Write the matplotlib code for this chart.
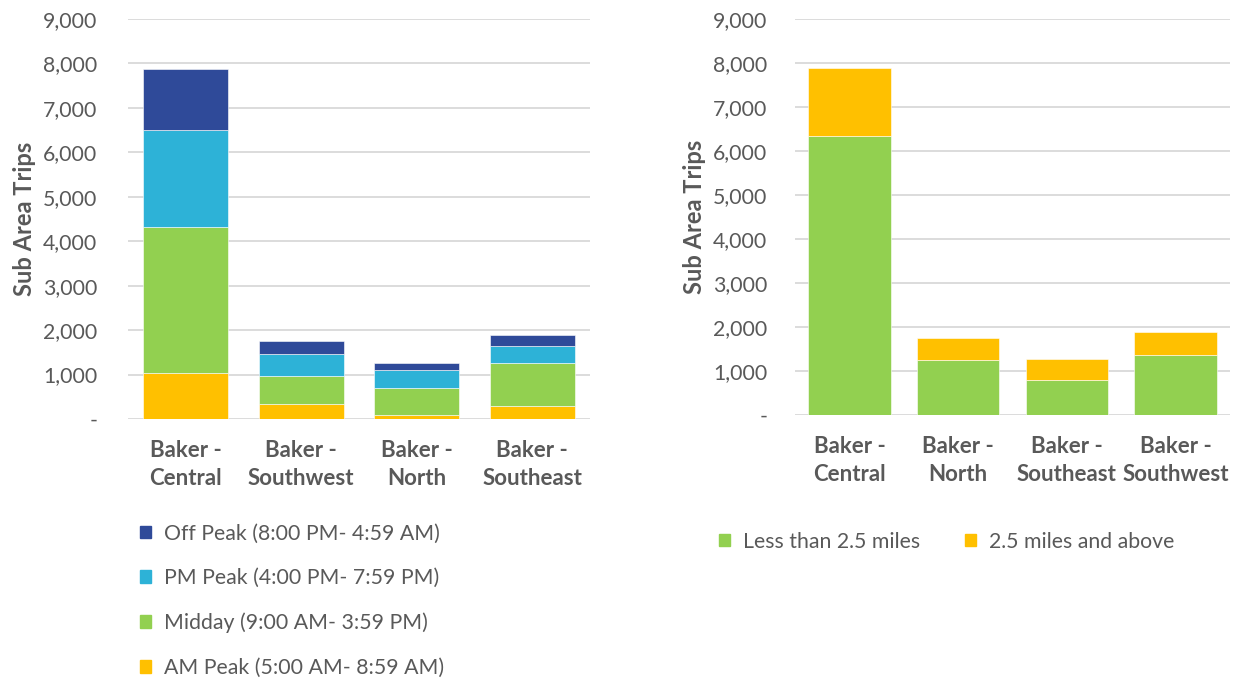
import matplotlib
matplotlib.use("Agg")
import matplotlib.pyplot as plt
from matplotlib.patches import Patch
from matplotlib.ticker import FuncFormatter

plt.rcParams['font.family'] = ['Lato', 'DejaVu Sans']

# Trips by time of day
areas_time = ["Baker -\nCentral", "Baker -\nSouthwest", "Baker -\nNorth", "Baker -\nSoutheast"]
am_peak = [1040, 330, 100, 300]
midday = [3290, 645, 605, 960]
pm_peak = [2170, 480, 390, 375]
off_peak = [1380, 295, 165, 255]
time_labels = ["AM Peak (5:00 AM- 8:59 AM)", "Midday (9:00 AM- 3:59 PM)",
               "PM Peak (4:00 PM- 7:59 PM)", "Off Peak (8:00 PM- 4:59 AM)"]

# Trips by distance
areas_dist = ["Baker -\nCentral", "Baker -\nNorth", "Baker -\nSoutheast", "Baker -\nSouthwest"]
short_trips = [6350, 1255, 800, 1360]
long_trips = [1540, 495, 465, 530]
dist_labels = ["Less than 2.5 miles", "2.5 miles and above"]

yticks = [0, 1000, 2000, 3000, 4000, 5000, 6000, 7000, 8000, 9000]

C_OFF = "#2F4A99"
C_PM = "#2DB2D7"
C_MID = "#92D050"
C_AM = "#FFC000"
TXT = "#595959"
GRID = "#D9D9D9"

FS = 15.3

W, H = 1239, 679
fig = plt.figure(figsize=(W / 100, H / 100), dpi=100)

def fmt(v, _):
    return "-" if v == 0 else f"{int(v):,}"

def style(ax, cats, ypad):
    ax.set_ylim(0, 9000)
    ax.set_yticks(yticks)
    ax.yaxis.set_major_formatter(FuncFormatter(fmt))
    ax.set_xlim(-0.5, len(cats) - 0.5)
    ax.set_xticks(range(len(cats)))
    ax.set_xticklabels(cats, fontsize=16, fontweight="bold", color=TXT, linespacing=1.45)
    ax.tick_params(axis="y", length=0, pad=ypad, labelsize=FS, labelcolor=TXT)
    ax.tick_params(axis="x", length=0, pad=15)
    for s in ax.spines.values():
        s.set_visible(False)
    ax.grid(axis="y", color=GRID, linewidth=1.3)
    ax.set_axisbelow(True)
    ax.set_ylabel("Sub Area Trips", fontsize=17, fontweight="bold", color=TXT, labelpad=5)

# Left chart: stacked by time period
ax1 = fig.add_axes([128 / W, 1 - 419 / H, (590 - 128) / W, 400 / H])
x1 = range(len(areas_time))
b = [0] * 4
for vals, col in zip([am_peak, midday, pm_peak, off_peak], [C_AM, C_MID, C_PM, C_OFF]):
    ax1.bar(x1, vals, 0.74, bottom=b, color=col, edgecolor="white", linewidth=0.4)
    b = [p + q for p, q in zip(b, vals)]
style(ax1, areas_time, 22)

handles1 = [Patch(color=c) for c in [C_OFF, C_PM, C_MID, C_AM]]
fig.legend(handles1, time_labels[::-1], loc="upper left",
           bbox_to_anchor=(131 / W, 1 - 515 / H), frameon=False,
           fontsize=FS, labelcolor=TXT, handlelength=0.55, handleheight=0.55,
           handletextpad=0.6, labelspacing=1.16, borderaxespad=0)

# Right chart: stacked by trip distance
ax2 = fig.add_axes([795 / W, 1 - 415 / H, (1230 - 795) / W, 396 / H])
x2 = range(len(areas_dist))
ax2.bar(x2, short_trips, 0.76, color=C_MID, edgecolor="white", linewidth=0.4)
ax2.bar(x2, long_trips, 0.76, bottom=short_trips, color=C_AM, edgecolor="white", linewidth=0.4)
style(ax2, areas_dist, 20)

handles2 = [Patch(color=C_MID), Patch(color=C_AM)]
fig.legend(handles2, dist_labels, loc="upper left", ncol=2,
           bbox_to_anchor=(710 / W, 1 - 523 / H), frameon=False,
           fontsize=FS, labelcolor=TXT, handlelength=0.55, handleheight=0.55,
           handletextpad=0.6, columnspacing=2.1, borderaxespad=0)

fig.savefig("out.png", dpi=100)
